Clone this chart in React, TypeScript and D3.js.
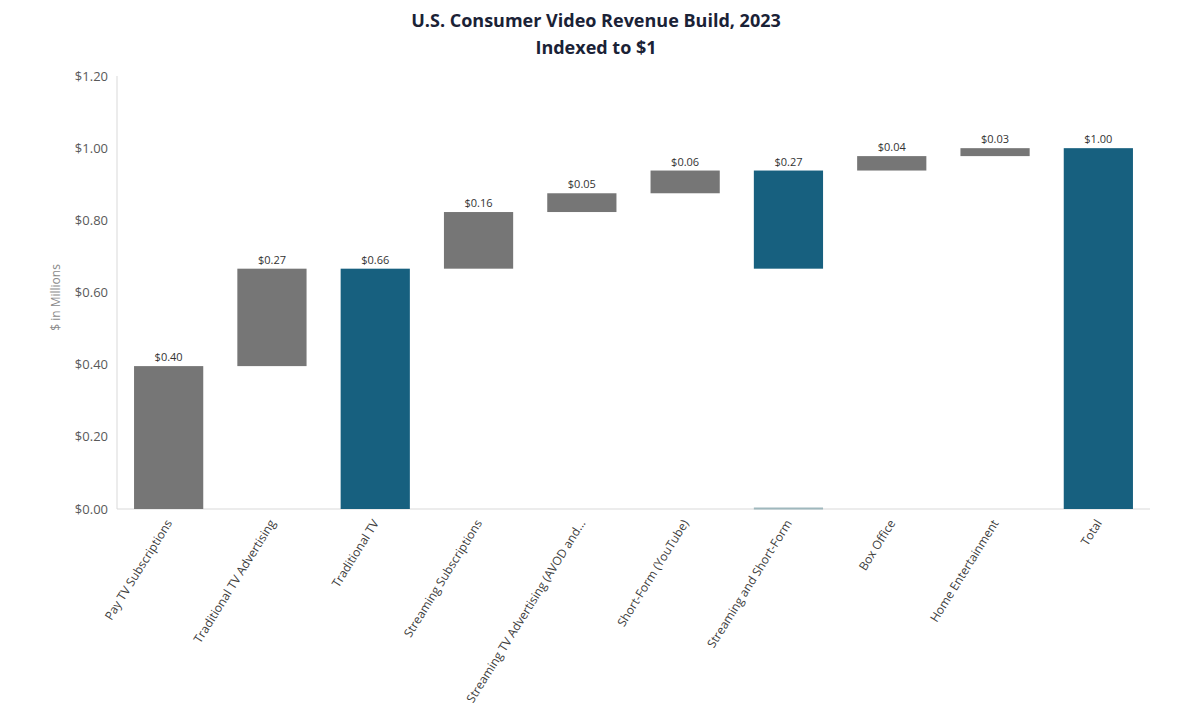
import React from "react";
import * as d3 from "d3";

const categories = [
  "Pay TV Subscriptions",
  "Traditional TV Advertising",
  "Traditional TV",
  "Streaming Subscriptions",
  "Streaming TV Advertising (AVOD and...",
  "Short-Form (YouTube)",
  "Streaming and Short-Form",
  "Box Office",
  "Home Entertainment",
  "Total",
];
// delta = increment, sub = subtotal from a starting group
const kinds = ["delta", "delta", "subtotal", "delta", "delta", "delta", "subtotal", "delta", "delta", "total"];
const deltas = [0.396, 0.27, 0, 0.157, 0.052, 0.063, 0, 0.04, 0.022, 0];
const valueLabels = ["$0.40", "$0.27", "$0.66", "$0.16", "$0.05", "$0.06", "$0.27", "$0.04", "$0.03", "$1.00"];
const subtotalStart = [0, 0, 0, 0, 0, 0, 3, 0, 0, 0]; // index where subtotal group starts
const yTicks = [0, 0.2, 0.4, 0.6, 0.8, 1.0, 1.2];

const GREY = "#767676";
const TEAL = "#17607f";

export default function App() {
  const width = 1200;
  const height = 720;
  const left = 117;
  const right = 1150;
  const top = 76;
  const bottom = 509;

  const x = d3.scaleBand<string>().domain(categories).range([left, right]).paddingInner(0.33).paddingOuter(0.165);
  const y = d3.scaleLinear().domain([0, 1.2]).range([bottom, top]);

  // compute bars
  let running = 0;
  const cumAt: number[] = [];
  const bars = categories.map((c, i) => {
    const k = kinds[i];
    let y0 = 0, y1 = 0;
    if (k === "delta") {
      y0 = running;
      y1 = running + deltas[i];
      running = y1;
    } else if (k === "subtotal") {
      const s = subtotalStart[i];
      y0 = s === 0 ? 0 : cumAt[s - 1];
      y1 = running;
    } else {
      y0 = 0;
      y1 = running;
    }
    cumAt.push(running);
    return { c, i, y0, y1, color: k === "delta" ? GREY : TEAL, floating: k === "subtotal" && subtotalStart[i] !== 0 };
  });

  const fmt = (v: number) => "$" + d3.format(".2f")(v);

  return (
    <svg width={width} height={height} style={{ display: "block", position: "absolute", left: 0, top: 0 }}>
      <rect width={width} height={height} fill="#fff" />
      <text x={596} y={27} textAnchor="middle" fontFamily="'Open Sans', sans-serif" fontWeight={700} fontSize={18} fill="#1a2236">
        U.S. Consumer Video Revenue Build, 2023
      </text>
      <text x={596} y={54} textAnchor="middle" fontFamily="'Open Sans', sans-serif" fontWeight={700} fontSize={18} fill="#1a2236">
        Indexed to $1
      </text>

      {/* axes lines */}
      <line x1={left} x2={left} y1={top} y2={bottom} stroke="#d9d9d9" strokeWidth={1} />
      <line x1={left} x2={right} y1={bottom} y2={bottom} stroke="#d9d9d9" strokeWidth={1} />

      {yTicks.map((t) => (
        <text key={t} x={108} y={y(t)} dy="0.35em" textAnchor="end" fontFamily="'Open Sans', sans-serif" fontSize={13} fill="#595959">
          {fmt(t)}
        </text>
      ))}
      <text
        transform={`translate(60,${(top + bottom) / 2 + 5}) rotate(-90)`}
        textAnchor="middle"
        fontFamily="'Open Sans', sans-serif"
        fontSize={12}
        fill="#8a8a8a"
      >
        $ in Millions
      </text>

      {bars.map((b) => {
        const bx = x(b.c)!;
        const bw = x.bandwidth();
        const yt = y(b.y1);
        const yb = y(b.y0);
        return (
          <g key={b.c}>
            <rect x={bx} y={yt} width={bw} height={Math.max(1, yb - yt)} fill={b.color} />
            {b.floating && (
              <line x1={bx} x2={bx + bw} y1={bottom - 0.5} y2={bottom - 0.5} stroke="#9fb8bd" strokeWidth={2} />
            )}
            <text
              x={bx + bw / 2}
              y={yt - 5}
              textAnchor="middle"
              fontFamily="'Open Sans', sans-serif"
              fontSize={11}
              fill="#333"
            >
              {valueLabels[b.i]}
            </text>
            <text
              transform={`translate(${bx + bw / 2 + 4},${bottom + 14}) rotate(-58)`}
              textAnchor="end"
              fontFamily="'Open Sans', sans-serif"
              fontSize={12}
              fill="#404040"
            >
              {b.c}
            </text>
          </g>
        );
      })}
    </svg>
  );
}
